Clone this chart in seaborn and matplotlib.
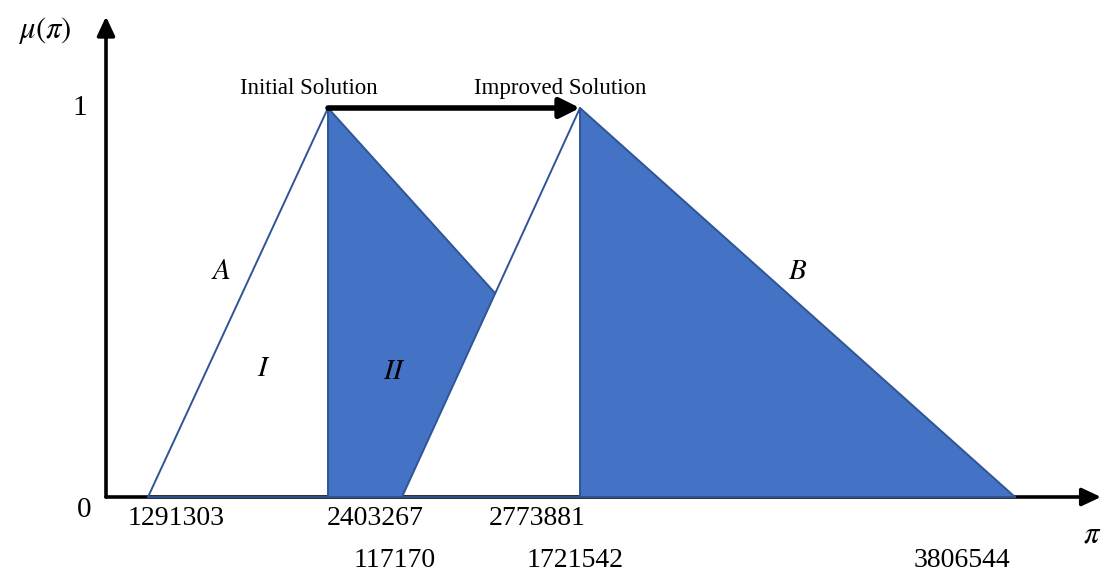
import matplotlib
matplotlib.use("Agg")
import matplotlib.pyplot as plt
import numpy as np
import pandas as pd
import seaborn as sns

# membership functions (x in drawing units, mu in [0, 1])
MU = [0, 1, 0]
INITIAL_X = [42, 222, 573]      # left foot, peak, right foot of initial solution
IMPROVED_X = [296, 474, 909]    # left foot, peak, right foot of improved solution

ROW1_LABELS = ["1291303", "2403267", "2773881"]
ROW1_X = [70, 269, 431]
ROW2_LABELS = ["117170", "1721542", "3806544"]
ROW2_X = [289, 469, 856]

FILL = "#4472C4"
EDGE = "#2F5597"
SERIF = ["Liberation Serif", "DejaVu Serif"]


def intersect(p1, p2, p3, p4):
    (x1, y1), (x2, y2), (x3, y3), (x4, y4) = p1, p2, p3, p4
    d = (x1 - x2) * (y3 - y4) - (y1 - y2) * (x3 - x4)
    t = ((x1 - x3) * (y3 - y4) - (y1 - y3) * (x3 - x4)) / d
    return x1 + t * (x2 - x1), y1 + t * (y2 - y1)


def seg(ax, xs, ys, **kw):
    df = pd.DataFrame({"x": xs, "y": ys})
    sns.lineplot(data=df, x="x", y="y", sort=False, estimator=None, ax=ax,
                 color=EDGE, lw=1.4, zorder=4, **kw)


def main() -> None:
    sns.set_theme(style="white")
    plt.rcParams.update({"mathtext.fontset": "stix", "font.family": SERIF,
                         "text.color": "black"})

    fig = plt.figure(figsize=(11.01, 5.72), dpi=100)
    ax = fig.add_axes([0, 0, 1, 1])
    ax.set_xlim(-106, 995)
    ax.set_ylim(-75 / 389, 497 / 389)
    ax.set_axis_off()

    a0, a1, a2 = INITIAL_X
    b0, b1, b2 = IMPROVED_X
    px, py = intersect((a1, 1), (a2, 0), (b0, 0), (b1, 1))

    # axes with arrows
    arrow = dict(arrowstyle="-|>,head_length=0.64,head_width=0.3", lw=2.6, color="black",
                 mutation_scale=18, shrinkA=0, shrinkB=0)
    ax.annotate("", xy=(0, 1.235), xytext=(0, 0), arrowprops=arrow, zorder=2)
    ax.annotate("", xy=(995, 0), xytext=(0, 0), arrowprops=arrow, zorder=2)

    # shaded regions
    ax.fill([a1, px, b0, a1], [1, py, 0, 0], color=FILL, zorder=3, lw=0)
    ax.fill([b1, b2, b1], [1, 0, 0], color=FILL, zorder=3, lw=0)

    # outlines
    seg(ax, [a0, a1, a1], [0, 1, 0])
    seg(ax, [a1, px], [1, py])
    seg(ax, [b0, b1, b1], [0, 1, 0])
    seg(ax, [b1, b2], [1, 0])
    seg(ax, [a0, b2], [0, 0])

    # improvement arrow
    ax.annotate("", xy=(b1, 1), xytext=(a1, 1), zorder=5,
                arrowprops=dict(arrowstyle="-|>,head_length=0.6,head_width=0.3", lw=4.0,
                                color="black", mutation_scale=20, shrinkA=0, shrinkB=0))

    ax.text(203, 1.049, "Initial Solution", ha="center", va="center", fontsize=16.5)
    ax.text(454, 1.049, "Improved Solution", ha="center", va="center", fontsize=16.5)

    for s, x, y in [("A", 115, 0.578), ("I", 158, 0.329), ("II", 289, 0.321), ("B", 692, 0.578)]:
        ax.text(x, y, f"${s}$", ha="center", va="center", fontsize=21, zorder=6)

    ax.text(-26, 1.0, "1", ha="center", va="center", fontsize=21)
    ax.text(-22, -0.033, "0", ha="center", va="center", fontsize=21)
    ax.text(-61, 1.20, r"$\mu(\pi)$", ha="center", va="center", fontsize=22)
    ax.text(986, -0.098, r"$\pi$", ha="center", va="center", fontsize=22)

    for lab, x in zip(ROW1_LABELS, ROW1_X):
        ax.text(x, -0.054, lab, ha="center", va="center", fontsize=20)
    for lab, x in zip(ROW2_LABELS, ROW2_X):
        ax.text(x, -0.162, lab, ha="center", va="center", fontsize=20)

    fig.savefig("out.png", dpi=100)
    plt.close(fig)


if __name__ == "__main__":
    main()
